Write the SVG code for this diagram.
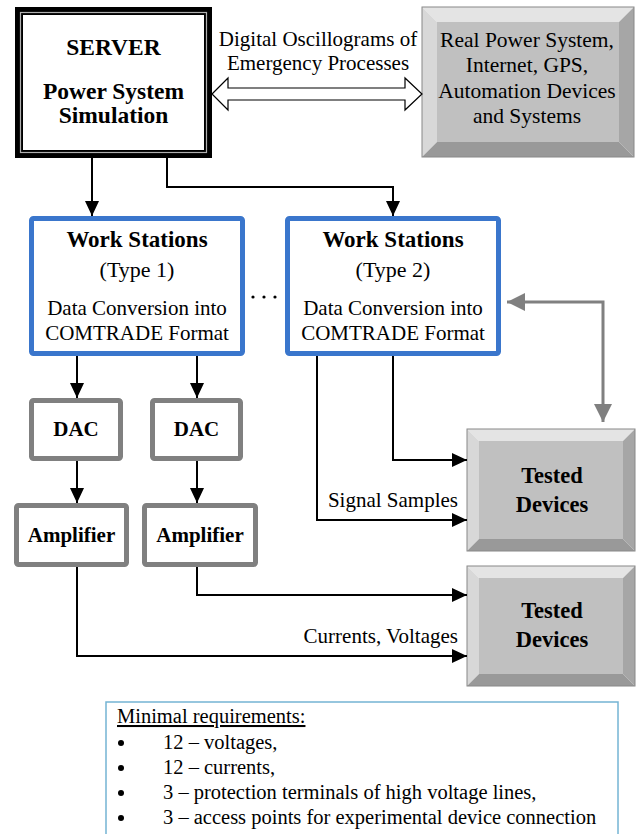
<svg xmlns="http://www.w3.org/2000/svg" width="639" height="834" viewBox="0 0 639 834">
<style>
text{font-family:"Liberation Serif","Times New Roman",serif;fill:#000}
.b{font-weight:bold}
.c{text-anchor:middle}
.ws{fill:#fff;stroke:#3a76cc;stroke-width:5}
.gb{fill:#fff;stroke:#808080;stroke-width:5}
.ln{fill:none;stroke:#000;stroke-width:2}
.gl{fill:none;stroke:#808080;stroke-width:3}
.bt{fill:#e4e4e4}
.bl{fill:#d8d8d8}
.br{fill:#a6a6a6}
.bb{fill:#999}
.bf{fill:#c0c0c0}
.bo{fill:none;stroke:#888;stroke-width:1}
</style>
<defs>
<marker id="ah" markerUnits="userSpaceOnUse" markerWidth="15" markerHeight="14" refX="15" refY="7" orient="auto">
<path d="M0,0 L15,7 L0,14 z" fill="#000"/>
</marker>
<marker id="gh" markerUnits="userSpaceOnUse" markerWidth="18" markerHeight="18" refX="18" refY="9" orient="auto-start-reverse">
<path d="M0,0 L18,9 L0,18 z" fill="#808080"/>
</marker>
</defs>

<g id="server">
<rect x="15" y="7" width="197" height="151" fill="#000"/>
<rect x="20.5" y="12.5" width="186" height="140" fill="none" stroke="#b0b0b0" stroke-width="1.2"/>
<rect x="23" y="15" width="181" height="135" fill="#fff"/>
<text class="b c" x="113.5" y="55" font-size="23.5">SERVER</text>
<text class="b c" x="113.5" y="99" font-size="23.5">Power System</text>
<text class="b c" x="113.5" y="123" font-size="23.5">Simulation</text>
</g>

<g id="real-system">
<polygon class="bt" points="422,7 634,7 619,22 437,22"/>
<polygon class="bl" points="422,7 437,22 437,142 422,157"/>
<polygon class="br" points="634,7 634,157 619,142 619,22"/>
<polygon class="bb" points="422,157 437,142 619,142 634,157"/>
<rect class="bf" x="437" y="22" width="182" height="120"/>
<rect class="bo" x="422" y="7" width="212" height="150"/>
<text class="c" x="527" y="47" font-size="21.5">Real Power System,</text>
<text class="c" x="527" y="72" font-size="21.5">Internet, GPS,</text>
<text class="c" x="527" y="98" font-size="21.5">Automation Devices</text>
<text class="c" x="527" y="123" font-size="21.5">and Systems</text>
</g>

<g id="oscillograms">
<polygon points="212,94 228,78 228,88 405,88 405,78 422,94 405,110 405,100 228,100 228,110" fill="#fff" stroke="#000" stroke-width="1.2"/>
<text class="c" x="318" y="46" font-size="21">Digital Oscillograms of</text>
<text class="c" x="318" y="70" font-size="21">Emergency Processes</text>
</g>

<g id="ws1">
<rect class="ws" x="31.5" y="218.5" width="211" height="135" rx="2"/>
<text class="b c" x="137" y="247" font-size="23">Work Stations</text>
<text class="c" x="137" y="277" font-size="22">(Type 1)</text>
<text class="c" x="137" y="315" font-size="21">Data Conversion into</text>
<text class="c" x="137" y="340" font-size="21">COMTRADE Format</text>
</g>

<g id="dots">
<circle cx="253" cy="297" r="1.6"/>
<circle cx="264" cy="297" r="1.6"/>
<circle cx="275" cy="297" r="1.6"/>
</g>

<g id="ws2">
<rect class="ws" x="287.5" y="218.5" width="211" height="135" rx="2"/>
<text class="b c" x="393" y="247" font-size="23">Work Stations</text>
<text class="c" x="393" y="277" font-size="22">(Type 2)</text>
<text class="c" x="393" y="315" font-size="21">Data Conversion into</text>
<text class="c" x="393" y="340" font-size="21">COMTRADE Format</text>
</g>

<g id="dac1">
<rect class="gb" x="31.5" y="400.5" width="89" height="58" rx="2"/>
<text class="b c" x="76" y="436" font-size="21">DAC</text>
</g>
<g id="dac2">
<rect class="gb" x="152.5" y="400.5" width="88" height="58" rx="2"/>
<text class="b c" x="196.5" y="436" font-size="21">DAC</text>
</g>
<g id="amp1">
<rect class="gb" x="16.5" y="505.5" width="110" height="59" rx="2"/>
<text class="b c" x="71.5" y="542" font-size="21">Amplifier</text>
</g>
<g id="amp2">
<rect class="gb" x="144.5" y="505.5" width="111" height="59" rx="2"/>
<text class="b c" x="200" y="542" font-size="21">Amplifier</text>
</g>

<g id="tested1">
<polygon class="bt" points="467,429 635,429 623,441 479,441"/>
<polygon class="bl" points="467,429 479,441 479,539 467,551"/>
<polygon class="br" points="635,429 635,551 623,539 623,441"/>
<polygon class="bb" points="467,551 479,539 623,539 635,551"/>
<rect class="bf" x="479" y="441" width="144" height="98"/>
<rect class="bo" x="467" y="429" width="168" height="122"/>
<text class="b c" x="552" y="483" font-size="22.5">Tested</text>
<text class="b c" x="552" y="512" font-size="22.5">Devices</text>
</g>

<g id="tested2">
<polygon class="bt" points="467,566 635,566 623,578 479,578"/>
<polygon class="bl" points="467,566 479,578 479,674 467,686"/>
<polygon class="br" points="635,566 635,686 623,674 623,578"/>
<polygon class="bb" points="467,686 479,674 623,674 635,686"/>
<rect class="bf" x="479" y="578" width="144" height="96"/>
<rect class="bo" x="467" y="566" width="168" height="120"/>
<text class="b c" x="552" y="618" font-size="22.5">Tested</text>
<text class="b c" x="552" y="647" font-size="22.5">Devices</text>
</g>

<g id="connectors">
<path class="ln" d="M92,158 V216" marker-end="url(#ah)"/>
<path class="ln" d="M167,158 V187 H393 V216" marker-end="url(#ah)"/>
<path class="ln" d="M77,356 V398" marker-end="url(#ah)"/>
<path class="ln" d="M197,356 V398" marker-end="url(#ah)"/>
<path class="ln" d="M77,461 V503" marker-end="url(#ah)"/>
<path class="ln" d="M197,461 V503" marker-end="url(#ah)"/>
<path class="ln" d="M197,567 V595 H467" marker-end="url(#ah)"/>
<path class="ln" d="M77,567 V656 H467" marker-end="url(#ah)"/>
<path class="ln" d="M393,356 V460 H467" marker-end="url(#ah)"/>
<path class="ln" d="M317,356 V520 H467" marker-end="url(#ah)"/>
<path class="gl" d="M507,302 H603 V422" marker-start="url(#gh)" marker-end="url(#gh)"/>
<text x="458" y="507" font-size="21" text-anchor="end">Signal Samples</text>
<text x="458" y="643" font-size="21" text-anchor="end">Currents, Voltages</text>
</g>

<g id="requirements">
<rect x="106" y="702" width="512" height="140" fill="#fff" stroke="#74b4d4" stroke-width="1.5"/>
<text x="117" y="723" font-size="20.5" text-decoration="underline">Minimal requirements:</text>
<circle cx="121" cy="743" r="3"/>
<circle cx="121" cy="768" r="3"/>
<circle cx="121" cy="793" r="3"/>
<circle cx="121" cy="818" r="3"/>
<text x="163" y="749" font-size="20.5">12 – voltages,</text>
<text x="163" y="774" font-size="20.5">12 – currents,</text>
<text x="163" y="799" font-size="20.5">3 – protection terminals of high voltage lines,</text>
<text x="163" y="824" font-size="20.5">3 – access points for experimental device connection</text>
</g>
</svg>
